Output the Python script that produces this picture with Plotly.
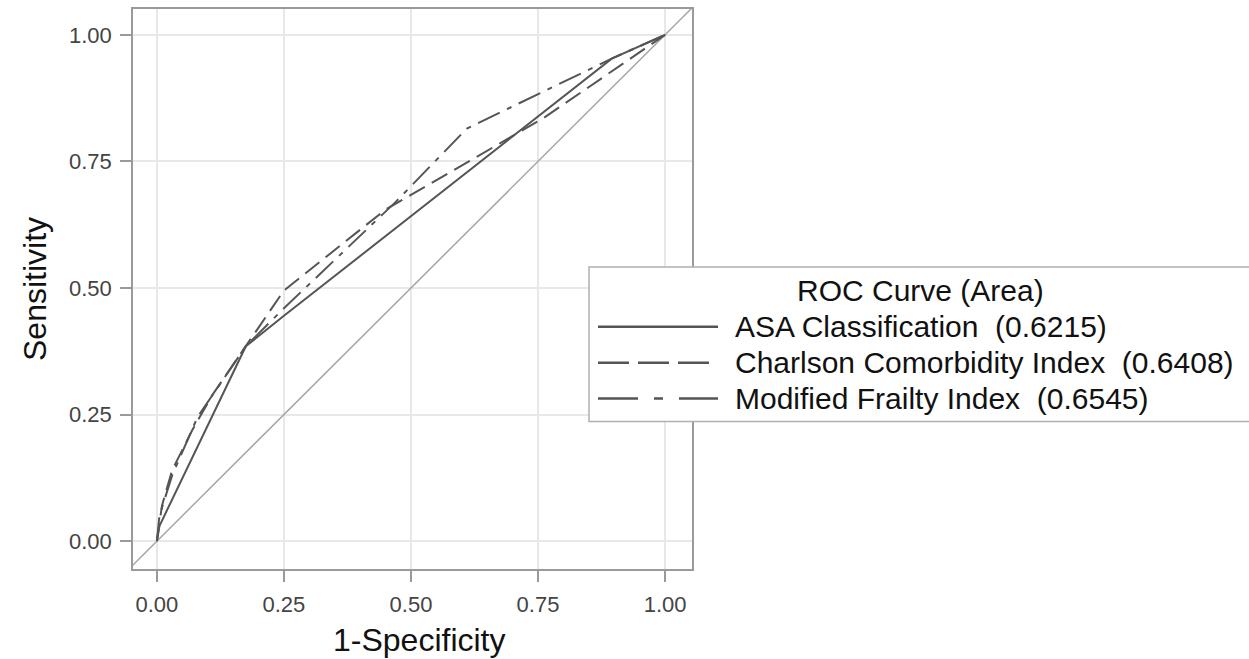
import plotly.graph_objects as go

# ROC points (1-specificity, sensitivity) for each risk index
fpr_asa = [0.0, 0.005, 0.175, 0.25, 0.895, 1.0]
tpr_asa = [0.0, 0.03, 0.385, 0.445, 0.953, 1.0]

fpr_cci = [0.0, 0.01, 0.03, 0.07, 0.11, 0.175, 0.25, 0.45, 0.76, 1.0]
tpr_cci = [0.0, 0.07, 0.14, 0.22, 0.29, 0.385, 0.495, 0.655, 0.835, 1.0]

fpr_mfi = [0.0, 0.005, 0.03, 0.08, 0.175, 0.25, 0.47, 0.61, 0.895, 1.0]
tpr_mfi = [0.0, 0.05, 0.13, 0.245, 0.385, 0.46, 0.67, 0.815, 0.953, 1.0]

# chance diagonal, running corner to corner of the frame
chance = [-0.1, 1.1]

series_names = ["ASA Classification", "Charlson Comorbidity Index", "Modified Frailty Index"]
auc_labels = ["0.6215", "0.6408", "0.6545"]
legend_title = "ROC Curve (Area)"

tick_vals = [0.0, 0.25, 0.5, 0.75, 1.0]
tick_text = ["0.00", "0.25", "0.50", "0.75", "1.00"]

x_title = "1-Specificity"
y_title = "Sensitivity"

# canvas and plot-area geometry (pixels)
W, H = 1249, 659
ML, MR, MT, MB = 133, 557, 7, 90
PW, PH = W - ML - MR, H - MT - MB


def px(x):
    return (x - ML) / PW


def py(y):
    return (H - MB - y) / PH


FONT = "Liberation Sans, Arial, sans-serif"
CURVE = "#555555"

curve_dash = ["solid", "18px,8px", "24px,8px,5px,8px"]
legend_dash = ["solid", "31px,9px", "40px,16px,9px,16px"]

fig = go.Figure()

fig.add_trace(go.Scatter(x=chance, y=chance, mode="lines",
                         line=dict(color="#a6a6a6", width=1.5),
                         showlegend=False, hoverinfo="skip"))

for fx, ty, name, dash in zip([fpr_asa, fpr_cci, fpr_mfi],
                              [tpr_asa, tpr_cci, tpr_mfi],
                              series_names, curve_dash):
    fig.add_trace(go.Scatter(x=fx, y=ty, mode="lines", name=name,
                             line=dict(color=CURVE, width=2, dash=dash),
                             showlegend=False))

axis_common = dict(
    tickmode="array", tickvals=tick_vals, ticktext=tick_text,
    ticks="outside", ticklen=11, tickwidth=1.5, tickcolor="#9a9a9a",
    tickfont=dict(family=FONT, size=22, color="#444444"),
    showgrid=True, gridcolor="#e8e8e8", gridwidth=1.5,
    showline=True, linecolor="#9a9a9a", linewidth=1.5, mirror=True,
    zeroline=False, fixedrange=True,
)

fig.update_layout(
    width=W, height=H,
    margin=dict(l=ML, r=MR, t=MT, b=MB),
    paper_bgcolor="white", plot_bgcolor="white",
    showlegend=False,
    xaxis=dict(range=[-0.047, 1.053], ticklabelstandoff=4, **axis_common),
    yaxis=dict(range=[-0.055, 1.051], ticklabelstandoff=4, **axis_common),
    font=dict(family=FONT),
)

annotations = [
    dict(text=x_title, x=px(419), y=py(640), xref="paper", yref="paper",
         xanchor="center", yanchor="middle", showarrow=False,
         font=dict(family=FONT, size=32, color="#111111")),
    dict(text=y_title, x=px(35), y=py(288), xref="paper", yref="paper",
         xanchor="center", yanchor="middle", showarrow=False, textangle=-90,
         font=dict(family=FONT, size=32, color="#111111")),
]

# legend panel drawn as a framed box with sample lines and labels
shapes = [dict(type="rect", xref="paper", yref="paper",
               x0=px(589), x1=px(1252), y0=py(421), y1=py(266),
               line=dict(color="#b0b0b0", width=1.5), fillcolor="white",
               layer="above")]

annotations.append(dict(text=legend_title, x=px(920), y=py(290),
                        xref="paper", yref="paper", xanchor="center",
                        yanchor="middle", showarrow=False,
                        font=dict(family=FONT, size=30, color="#111111")))

row_y = [326, 362, 398]
for yy, name, auc, dash in zip(row_y, series_names, auc_labels, legend_dash):
    shapes.append(dict(type="line", xref="paper", yref="paper",
                       x0=px(598), x1=px(718), y0=py(yy), y1=py(yy),
                       line=dict(color=CURVE, width=2.5, dash=dash),
                       layer="above"))
    annotations.append(dict(text=f"{name}\u00a0\u00a0({auc})",
                            x=px(733), y=py(yy), xref="paper", yref="paper",
                            xanchor="left", yanchor="middle", showarrow=False,
                            font=dict(family=FONT, size=30, color="#111111")))

fig.update_layout(shapes=shapes, annotations=annotations)

fig.write_html("out.html")
